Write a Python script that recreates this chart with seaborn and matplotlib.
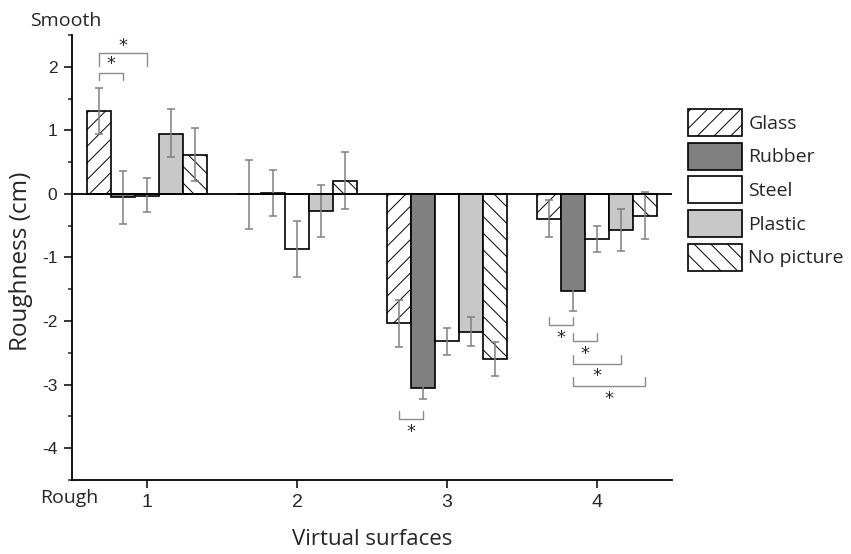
import pandas as pd
import seaborn as sns
import matplotlib.pyplot as plt
from matplotlib.ticker import MultipleLocator

#%% data
surfaces = ['1', '2', '3', '4']
materials = ['Glass', 'Rubber', 'Steel', 'Plastic', 'No picture']

# mean roughness, one value per virtual surface
glass = [1.31, 0.00, -2.03, -0.39]
rubber = [-0.05, 0.02, -3.06, -1.53]
steel = [-0.03, -0.87, -2.32, -0.71]
plastic = [0.95, -0.27, -2.17, -0.57]
no_picture = [0.62, 0.21, -2.60, -0.34]

# error bar ends (upper / lower)
glass_hi = [1.66, 0.54, -1.67, -0.09]
glass_lo = [0.95, -0.55, -2.41, -0.68]
rubber_hi = [0.36, 0.38, -2.89, -1.23]
rubber_lo = [-0.47, -0.35, -3.23, -1.84]
steel_hi = [0.25, -0.42, -2.11, -0.51]
steel_lo = [-0.29, -1.31, -2.53, -0.91]
plastic_hi = [1.34, 0.14, -1.93, -0.24]
plastic_lo = [0.58, -0.68, -2.40, -0.89]
no_picture_hi = [1.03, 0.66, -2.33, 0.03]
no_picture_lo = [0.21, -0.23, -2.86, -0.71]

# significance brackets: surface, material a, material b, bar y, tip y, star y
sig_surface = [0, 0, 2, 3, 3, 3, 3]
sig_a = [0, 0, 0, 0, 1, 1, 1]
sig_b = [2, 1, 1, 1, 2, 3, 4]
sig_bar = [2.22, 1.91, -3.54, -2.06, -2.32, -2.67, -3.02]
sig_tip = [2.02, 1.80, -3.41, -1.94, -2.18, -2.53, -2.88]
sig_star = [2.33, 2.04, -3.75, -2.26, -2.52, -2.87, -3.22]

means = [glass, rubber, steel, plastic, no_picture]
highs = [glass_hi, rubber_hi, steel_hi, plastic_hi, no_picture_hi]
lows = [glass_lo, rubber_lo, steel_lo, plastic_lo, no_picture_lo]

df = pd.DataFrame([
    {'surface': s, 'material': m, 'roughness': v}
    for m, vals in zip(materials, means)
    for s, v in zip(surfaces, vals)
])

#%% plot setup
sns.set_style("ticks")
plt.rcParams['font.family'] = ['Open Sans', 'DejaVu Sans']
plt.rcParams['axes.unicode_minus'] = False
plt.rcParams['hatch.linewidth'] = 0.7

palette = {'Glass': 'white', 'Rubber': '#808080', 'Steel': 'white',
           'Plastic': '#c8c8c8', 'No picture': 'white'}
hatches = {'Glass': '//', 'Rubber': '', 'Steel': '',
           'Plastic': '', 'No picture': '\\\\'}

fig = plt.figure(figsize=(8.51, 5.54), dpi=100)
ax = fig.add_axes([0.0846, 0.1336, 0.7051, 0.8032])

sns.barplot(data=df, x='surface', y='roughness', hue='material',
            order=surfaces, hue_order=materials, palette=palette,
            errorbar=None, edgecolor='black', linewidth=1.2, width=0.8,
            legend=False, ax=ax)

centers = []
for cont, mat, hi, lo in zip(ax.containers, materials, highs, lows):
    xs = []
    for bar in cont:
        bar.set_hatch(hatches[mat])
        bar.set_edgecolor('black')
        xs.append(bar.get_x() + bar.get_width() / 2)
    centers.append(xs)
    vals = [b.get_height() for b in cont]
    yerr = [[v - l for v, l in zip(vals, lo)], [h - v for v, h in zip(vals, hi)]]
    ax.errorbar(xs, vals, yerr=yerr, fmt='none', ecolor='#808080',
                elinewidth=1.1, capsize=3, capthick=1.1, zorder=4)

ax.axhline(0, color='black', lw=1.3, zorder=5)

# significance brackets
for s, a, b, yb, yt, ys in zip(sig_surface, sig_a, sig_b, sig_bar, sig_tip, sig_star):
    xa, xb = centers[a][s], centers[b][s]
    ax.plot([xa, xa, xb, xb], [yt, yb, yb, yt], color='#8c8c8c', lw=1.0, zorder=4)
    ax.text((xa + xb) / 2, ys, '*', ha='center', va='center', fontsize=13,
            fontfamily='DejaVu Sans')

ax.set_xlim(-0.5, 3.5)
ax.set_ylim(-4.5, 2.5)
ax.yaxis.set_major_locator(MultipleLocator(1))
ax.yaxis.set_minor_locator(MultipleLocator(0.5))
ax.tick_params(axis='both', which='major', direction='out', length=6, width=1.1,
               color='black')
ax.tick_params(axis='y', which='major', labelsize=12.5, pad=4.5)
ax.tick_params(axis='x', which='major', labelsize=14, pad=4)
ax.tick_params(axis='y', which='minor', direction='out', length=3, width=1.1)
for lab in ax.get_xticklabels() + ax.get_yticklabels():
    lab.set_fontfamily('Liberation Sans')
sns.despine(ax=ax)
for sp in ['left', 'bottom']:
    ax.spines[sp].set_linewidth(1.3)
    ax.spines[sp].set_color('black')

ax.set_xlabel('Virtual surfaces', fontsize=16)
ax.set_ylabel('Roughness (cm)', fontsize=17.5)
ax.xaxis.set_label_coords(0.5, -0.11)
ax.yaxis.set_label_coords(-0.065, 0.492)

fig.text(30 / 851, 1 - 21 / 554, 'Smooth', ha='left', va='center', fontsize=14)
fig.text(40 / 851, 1 - 498 / 554, 'Rough', ha='left', va='center', fontsize=14)

handles = [cont[0] for cont in ax.containers]
ax.legend(handles, materials, loc='upper left', bbox_to_anchor=(688 / 851, 1 - 109 / 554),
          bbox_transform=fig.transFigure, frameon=False, fontsize=14,
          handlelength=2.8, handleheight=1.75, labelspacing=0.35,
          handletextpad=0.3, borderpad=0, borderaxespad=0)

# save figure
fig.savefig('out.png', dpi=100)
